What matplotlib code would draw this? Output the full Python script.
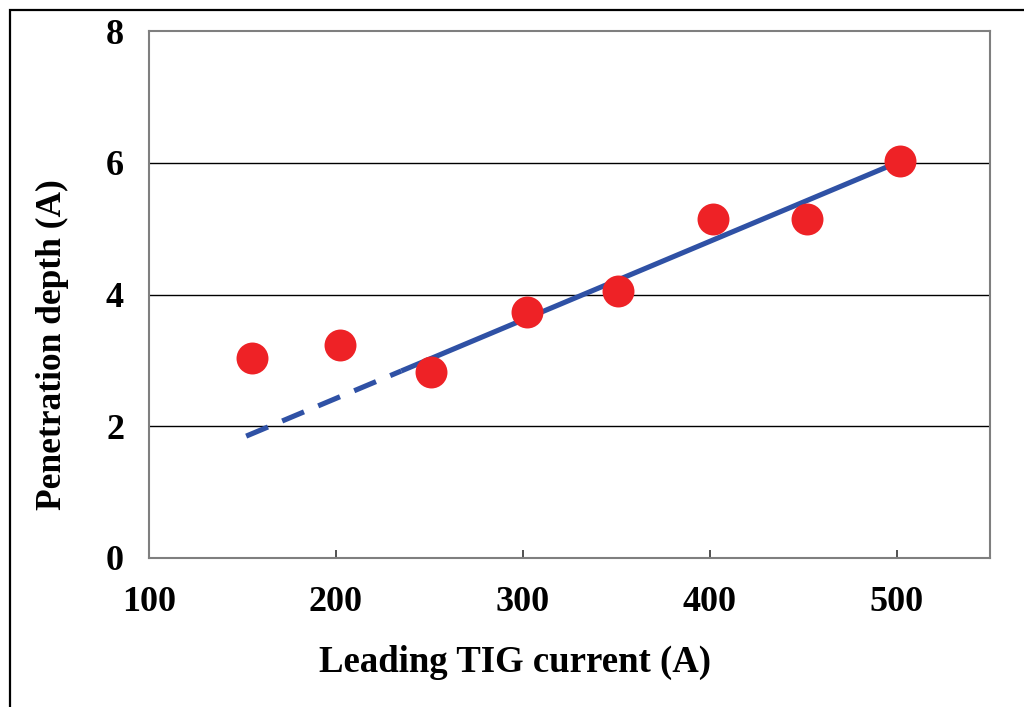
import numpy as np
import matplotlib
matplotlib.use("Agg")
import matplotlib.pyplot as plt
from matplotlib.patches import Rectangle

# Data
current = [155, 202, 251, 302, 351, 402, 452, 502]
depth = [3.03, 3.23, 2.83, 3.74, 4.06, 5.15, 5.14, 6.03]

# Trend line: dashed part extrapolated, solid part fitted
trend_x = [152, 496]
trend_y = [1.85, 5.95]
trend_split = 235

x_ticks = [100, 200, 300, 400, 500]
y_ticks = [0, 2, 4, 6, 8]

plt.rcParams['font.family'] = ['Liberation Serif', 'DejaVu Serif']
plt.rcParams['font.weight'] = 'bold'

fig = plt.figure(figsize=(10.24, 7.07), dpi=100)
W, H = 1024, 707
ax = fig.add_axes([149 / W, (H - 558) / H, (990 - 149) / W, (558 - 31) / H])

# outer frame (extends beyond the image on right and bottom)
fig.patches.append(Rectangle((9.5 / W, -0.1), 1.2, (H - 9.5) / H + 0.1,
                             transform=fig.transFigure, fill=False,
                             edgecolor='black', linewidth=1.6, zorder=0))

ax.set_xlim(100, 550)
ax.set_ylim(0, 8)

for y in y_ticks[1:-1]:
    ax.axhline(y, color='black', linewidth=1.0, zorder=1)

blue = '#2F51A5'
red = '#EE2226'
ys = np.interp(trend_split, trend_x, trend_y)
ax.plot([trend_x[0], trend_split], [trend_y[0], ys], color=blue,
        linewidth=3.7, dashes=(4.6, 3.0), solid_capstyle='butt',
        dash_capstyle='butt', zorder=2)
ax.plot([trend_split, trend_x[1]], [ys, trend_y[1]], color=blue,
        linewidth=3.7, solid_capstyle='butt', zorder=2)

ax.plot(current, depth, 'o', color=red, markersize=23, markeredgewidth=0,
        zorder=3)

for s in ax.spines.values():
    s.set_color('#7f7f7f')
    s.set_linewidth(1.5)

ax.set_xticks(x_ticks)
ax.set_yticks(y_ticks)
ax.tick_params(axis='x', direction='in', length=6, width=1.2, color='#333333',
               labelsize=26, pad=20)
ax.tick_params(axis='y', length=0, labelsize=26, pad=18)
for lab in ax.get_xticklabels() + ax.get_yticklabels():
    lab.set_fontweight('bold')

fig.text(515 / W, (H - 662) / H, 'Leading TIG current (A)', fontsize=26.5,
         fontweight='bold', ha='center', va='center')
fig.text(52 / W, (H - 345) / H, 'Penetration depth (A)', fontsize=25.5,
         fontweight='bold', ha='center', va='center', rotation=90)

fig.savefig('out.png', dpi=100)
